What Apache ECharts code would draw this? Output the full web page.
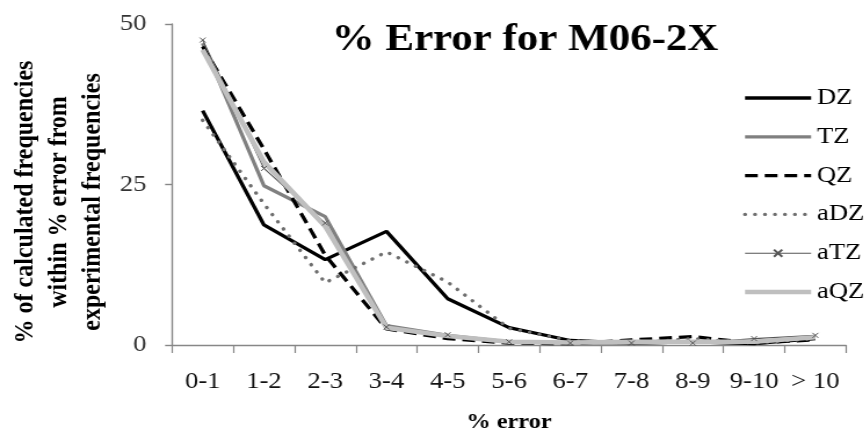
<!DOCTYPE html>
<html>
<head>
<meta charset="utf-8">
<script src="https://cdn.jsdelivr.net/npm/echarts@6/dist/echarts.min.js"></script>
<style>
  html, body { margin: 0; padding: 0; background: #fff; overflow: hidden; }
  /* the figure is laid out narrow and widened, so glyphs come out broad */
  #chart { width: 747px; height: 435px; transform: scaleX(1.16); transform-origin: 0 0; }
</style>
</head>
<body>
<div id="chart"></div>
<script>
// Error bins (% error between calculated and experimental frequencies)
const categories = ['0-1', '1-2', '2-3', '3-4', '4-5', '5-6', '6-7', '7-8', '8-9', '9-10', '> 10'];

// Share of calculated frequencies in each bin, per basis set
const DZ  = [36.5, 18.7, 13.3, 17.7, 7.2, 2.7, 0.7, 0.3, 0.5, 0.2, 1.0];
const TZ  = [47.0, 24.8, 20.0, 3.0, 1.5, 0.5, 0.3, 0.3, 0.5, 0.5, 1.2];
const QZ  = [46.5, 30.5, 14.0, 2.5, 1.0, 0.3, 0.2, 0.8, 1.3, 0.3, 0.8];
const aDZ = [35.0, 22.0, 9.7, 14.5, 9.8, 2.6, 0.7, 0.3, 1.0, 0.3, 1.0];
const aTZ = [47.5, 27.5, 19.0, 2.8, 1.6, 0.5, 0.3, 0.3, 0.3, 1.0, 1.5];
const aQZ = [46.0, 28.5, 18.5, 2.7, 1.4, 0.5, 0.4, 0.5, 0.5, 0.5, 1.2];

const yTicks = [0, 25, 50];

const serif = '"Liberation Serif", "Times New Roman", serif';
const axisGray = '#878787';

// stroke styles shared by the plotted lines and their legend samples
const styles = {
  DZ:  { color: '#000000', width: 3.3, type: 'solid' },
  TZ:  { color: '#808080', width: 3.3, type: 'solid' },
  QZ:  { color: '#000000', width: 3.3, type: [11, 6] },
  aDZ: { color: '#6e6e6e', width: 3.4, type: [0.1, 8.5], cap: 'round' },
  aTZ: { color: '#555555', width: 1.1, type: 'solid' },
  aQZ: { color: '#bfbfbf', width: 4.5, type: 'solid' }
};

function lineSeries(name, data, extra) {
  const lineStyle = styles[name];
  return Object.assign({
    name: name,
    type: 'line',
    data: data,
    symbol: 'none',
    smooth: false,
    lineStyle: lineStyle,
    itemStyle: { color: lineStyle.color },
    emphasis: { disabled: true },
    animation: false
  }, extra || {});
}

function legendItem(name, visibleMarker) {
  const s = styles[name];
  const item = {
    name: name,
    lineStyle: { color: s.color, width: s.width, type: s.type, cap: s.cap || 'butt' }
  };
  if (visibleMarker) item.itemStyle = { opacity: 1 };
  return item;
}

const chart = echarts.init(document.getElementById('chart'), null, { renderer: 'canvas' });

chart.setOption({
  backgroundColor: '#ffffff',
  animation: false,
  legend: {
    orient: 'vertical',
    left: 640,
    top: 86,
    padding: 0,
    itemWidth: 57,
    itemHeight: 9,
    itemGap: 14.8,
    itemStyle: { opacity: 0 },
    textStyle: { fontFamily: serif, fontSize: 23, color: '#000', lineHeight: 24 },
    data: [
      legendItem('DZ'), legendItem('TZ'), legendItem('QZ'), legendItem('aDZ'),
      legendItem('aTZ', true), legendItem('aQZ')
    ]
  },
  grid: {
    left: 148.3,
    right: 17.7,
    top: 24,
    bottom: 90,
    containLabel: false,
    outerBoundsMode: 'none'
  },
  xAxis: {
    type: 'category',
    data: categories,
    boundaryGap: true,
    name: '% error',
    nameLocation: 'middle',
    nameGap: 67,
    nameTextStyle: { fontFamily: serif, fontWeight: 'bold', fontSize: 21, color: '#000' },
    axisLine: { lineStyle: { color: axisGray, width: 1.4 } },
    axisTick: { show: true, alignWithLabel: false, length: 8, lineStyle: { color: axisGray, width: 1.2 } },
    axisLabel: { margin: 25, fontFamily: serif, fontSize: 23, color: '#111', interval: 0 },
    splitLine: { show: false }
  },
  yAxis: {
    type: 'value',
    min: yTicks[0],
    max: yTicks[yTicks.length - 1],
    interval: 25,
    axisLine: { show: true, lineStyle: { color: axisGray, width: 1.4 } },
    axisTick: { show: true, length: 6, lineStyle: { color: axisGray, width: 1.4 } },
    axisLabel: { margin: 22, fontFamily: serif, fontSize: 23, color: '#333' },
    splitLine: { show: false }
  },
  graphic: [{
    type: 'text',
    x: 452.6,
    y: 40,
    style: {
      text: '% Error for M06-2X',
      fontFamily: serif,
      fontWeight: 'bold',
      fontSize: 37,
      fill: '#000',
      align: 'center',
      verticalAlign: 'middle'
    }
  }, {
    type: 'text',
    x: 50.9,
    y: 202,
    rotation: Math.PI / 2,
    style: {
      text: '% of calculated frequencies\nwithin % error from\nexperimental frequencies',
      fontFamily: serif,
      fontWeight: 'bold',
      fontSize: 24,
      lineHeight: 29.3,
      fill: '#000',
      align: 'center',
      verticalAlign: 'middle'
    }
  }],
  series: [
    lineSeries('DZ', DZ),
    lineSeries('TZ', TZ),
    lineSeries('QZ', QZ),
    lineSeries('aDZ', aDZ),
    lineSeries('aTZ', aTZ, {
      symbol: 'path://M0,0L10,10M10,0L0,10',
      symbolSize: 5,
      showSymbol: true,
      itemStyle: { color: 'none', borderColor: '#555555', borderWidth: 1 }
    }),
    lineSeries('aQZ', aQZ)
  ]
});
</script>
</body>
</html>
